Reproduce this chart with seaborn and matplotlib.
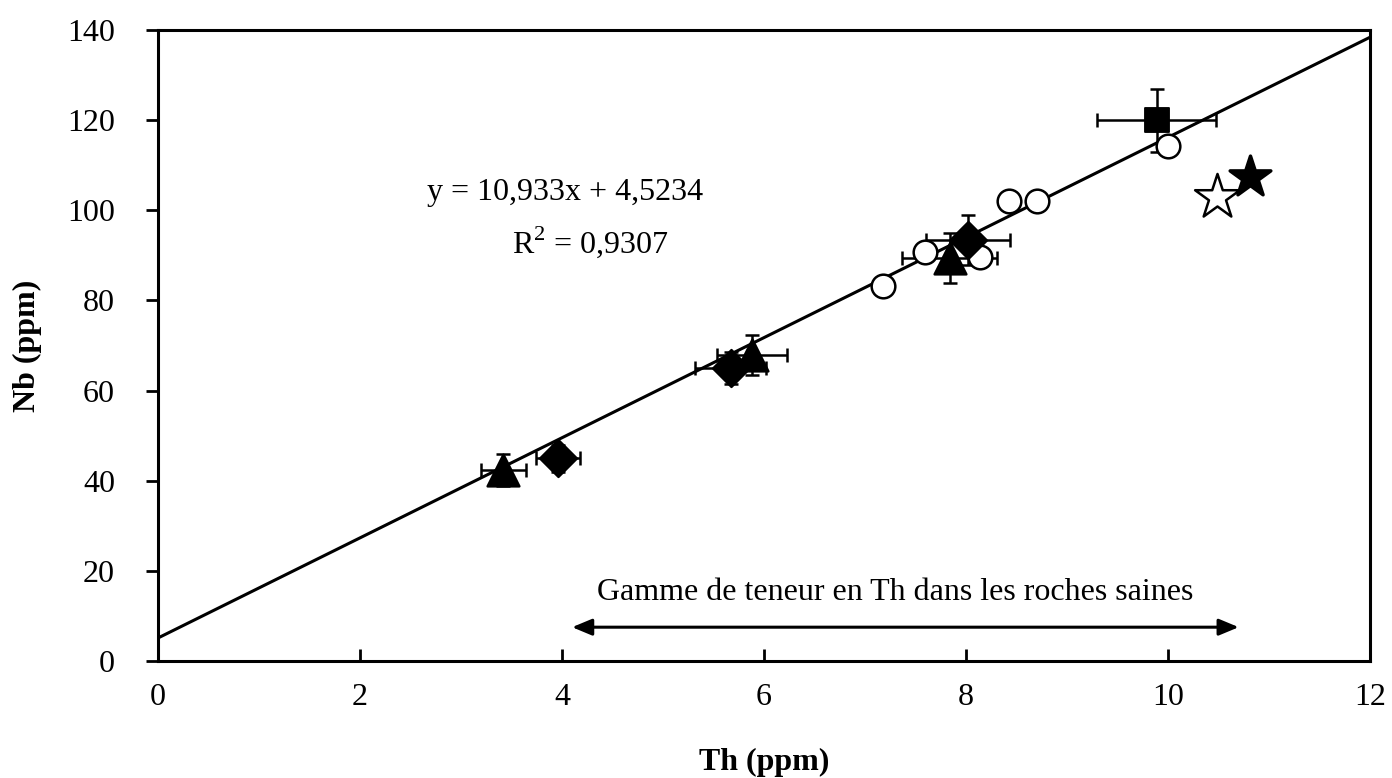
import numpy as np
import pandas as pd
import matplotlib
matplotlib.use("Agg")
import matplotlib.pyplot as plt
import seaborn as sns

# ---- data ----
tri_x = [3.42, 5.88, 7.84]
tri_y = [42.4, 67.9, 89.4]
tri_xerr = [0.22, 0.35, 0.47]
tri_yerr = [3.5, 4.5, 5.5]

dia_x = [3.96, 5.67, 8.02]
dia_y = [45.0, 65.0, 93.4]
dia_xerr = [0.22, 0.35, 0.42]
dia_yerr = [3.0, 3.5, 5.5]

sq_x = [9.89]
sq_y = [120.0]
sq_xerr = [0.59]
sq_yerr = [7.0]

circ_x = [7.18, 7.59, 8.14, 8.43, 8.70, 10.0]
circ_y = [83.2, 90.7, 89.6, 102.0, 102.0, 114.3]

star_open_x = [10.49]
star_open_y = [103.0]
star_fill_x = [10.81]
star_fill_y = [107.4]

fit_x = [0.0, 12.0]
fit_y = [5.1, 138.4]

eq_text = "y = 10,933x + 4,5234"
r2_text = "R$^{2}$ = 0,9307"
range_text = "Gamme de teneur en Th dans les roches saines"
range_x = [4.1, 10.7]
range_y = 7.5

x_ticks = [0, 2, 4, 6, 8, 10, 12]
y_ticks = [0, 20, 40, 60, 80, 100, 120, 140]

# ---- plotting ----
sns.set_style("ticks")
plt.rcParams['font.family'] = ['Liberation Serif', 'DejaVu Serif']
plt.rcParams['mathtext.fontset'] = 'custom'
plt.rcParams['mathtext.rm'] = 'Liberation Serif'
plt.rcParams['text.color'] = 'black'
plt.rcParams['axes.labelcolor'] = 'black'
plt.rcParams['xtick.color'] = 'black'
plt.rcParams['ytick.color'] = 'black'

FS = 23

fig = plt.figure(figsize=(13.92, 7.78), dpi=100)
ax = fig.add_axes([0.1135, 0.1504, 0.8707, 0.811])

fit_df = pd.DataFrame({"x": fit_x, "y": fit_y})
sns.lineplot(data=fit_df, x="x", y="y", ax=ax, color="black", lw=2.2, zorder=2)

eb = dict(fmt="none", ecolor="black", elinewidth=1.8, capsize=5, capthick=1.8, zorder=3)
ax.errorbar(tri_x, tri_y, xerr=tri_xerr, yerr=tri_yerr, **eb)
ax.errorbar(dia_x, dia_y, xerr=dia_xerr, yerr=dia_yerr, **eb)
ax.errorbar(sq_x, sq_y, xerr=sq_xerr, yerr=sq_yerr, **eb)

sns.scatterplot(x=circ_x, y=circ_y, ax=ax, marker="o", s=290, facecolor="white",
                edgecolor="black", linewidth=1.8, zorder=4)
sns.scatterplot(x=tri_x, y=tri_y, ax=ax, marker="^", s=520, color="black",
                edgecolor="black", zorder=5)
sns.scatterplot(x=dia_x, y=dia_y, ax=ax, marker="D", s=360, color="black",
                edgecolor="black", zorder=5)
sns.scatterplot(x=sq_x, y=sq_y, ax=ax, marker="s", s=280, color="black",
                edgecolor="black", zorder=5)
sns.scatterplot(x=star_open_x, y=star_open_y, ax=ax, marker="*", s=1150, facecolor="white",
                edgecolor="black", linewidth=1.8, zorder=5)
sns.scatterplot(x=star_fill_x, y=star_fill_y, ax=ax, marker="*", s=950, color="black",
                edgecolor="black", zorder=5)

ax.text(4.03, 104, eq_text, fontsize=FS, ha="center", va="center")
ax.text(4.28, 93, r2_text, fontsize=FS, ha="center", va="center")
ax.text(7.3, 15.3, range_text, fontsize=FS, ha="center", va="center")
ax.annotate("", xy=(range_x[0], range_y), xytext=(range_x[1], range_y),
            arrowprops=dict(arrowstyle="<|-|>,head_length=1.2,head_width=0.5",
                            color="black", lw=2.2, shrinkA=0, shrinkB=0))

ax.set_xlim(0, 12)
ax.set_ylim(0, 140)
ax.set_xticks(x_ticks)
ax.set_yticks(y_ticks)
ax.set_xticklabels([str(t) for t in x_ticks], fontsize=FS)
ax.set_yticklabels([str(t) for t in y_ticks], fontsize=FS)
ax.tick_params(axis="x", direction="in", length=9, width=2, pad=16)
ax.tick_params(axis="y", direction="out", length=9, width=2, pad=22)
for s in ax.spines.values():
    s.set_linewidth(2.2)
    s.set_color("black")

ax.set_xlabel("Th (ppm)", fontsize=FS, fontweight="bold", labelpad=26)
ax.set_ylabel("Nb (ppm)", fontsize=FS, fontweight="bold", labelpad=18)

fig.savefig("out.png", dpi=100)
